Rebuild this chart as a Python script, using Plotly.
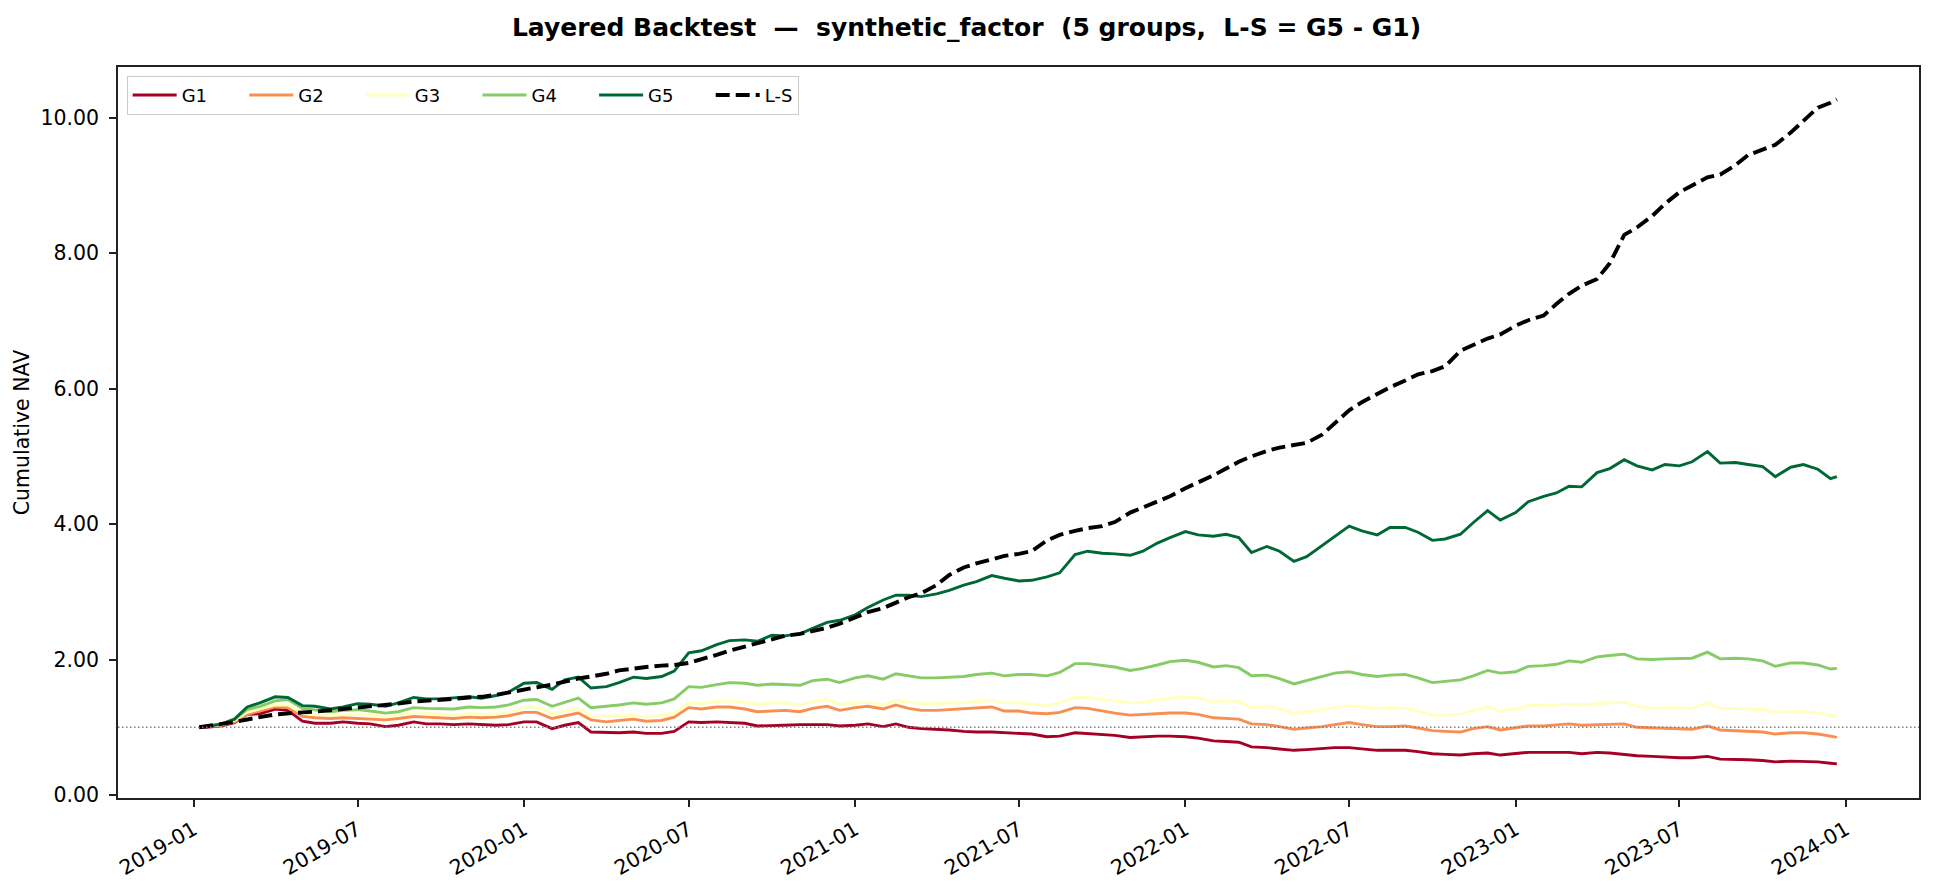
import plotly.graph_objects as go

# ---- dates: semi-monthly sampling of the backtest period ----
dates = (["2019-01-07"]
         + [f"{y}-{m:02d}-{d:02d}" for y in range(2019, 2024) for m in range(1, 13) for d in (1, 15)
            if not (y == 2019 and m == 1 and d == 1)]
         + ["2023-12-22"])

# ---- cumulative NAV per group ----
g1 = [1.00, 1.00, 1.02, 1.07, 1.19, 1.20, 1.27, 1.25, 1.09, 1.06, 1.06, 1.08, 1.06, 1.05, 1.01, 1.03, 1.08, 1.05, 1.05, 1.04, 1.05, 1.04, 1.03, 1.04,
      1.08, 1.08, 0.98, 1.03, 1.07, 0.93, 0.92, 0.92, 0.93, 0.91, 0.91, 0.94, 1.08, 1.07, 1.08, 1.07, 1.06, 1.02, 1.02, 1.03, 1.04, 1.04, 1.04, 1.02,
      1.03, 1.05, 1.01, 1.05, 1.00, 0.98, 0.97, 0.96, 0.94, 0.93, 0.93, 0.92, 0.91, 0.90, 0.86, 0.87, 0.92, 0.91, 0.89, 0.88, 0.85, 0.86, 0.87, 0.87,
      0.86, 0.84, 0.80, 0.79, 0.78, 0.71, 0.70, 0.68, 0.66, 0.67, 0.69, 0.70, 0.70, 0.68, 0.66, 0.66, 0.66, 0.64, 0.61, 0.60, 0.59, 0.61, 0.62, 0.59,
      0.61, 0.63, 0.63, 0.63, 0.63, 0.61, 0.63, 0.62, 0.60, 0.58, 0.57, 0.56, 0.55, 0.55, 0.57, 0.53, 0.53, 0.52, 0.51, 0.49, 0.50, 0.50, 0.49, 0.47, 0.46]

g2 = [1.00, 1.01, 1.03, 1.08, 1.19, 1.24, 1.30, 1.29, 1.16, 1.14, 1.13, 1.14, 1.13, 1.12, 1.11, 1.13, 1.16, 1.15, 1.14, 1.13, 1.15, 1.14, 1.15, 1.17,
      1.22, 1.22, 1.13, 1.17, 1.21, 1.11, 1.08, 1.10, 1.12, 1.09, 1.10, 1.15, 1.29, 1.27, 1.30, 1.30, 1.27, 1.23, 1.24, 1.25, 1.23, 1.28, 1.31, 1.25,
      1.29, 1.31, 1.27, 1.33, 1.28, 1.25, 1.25, 1.26, 1.27, 1.29, 1.30, 1.24, 1.24, 1.21, 1.20, 1.22, 1.29, 1.28, 1.24, 1.21, 1.18, 1.19, 1.21, 1.21,
      1.21, 1.19, 1.14, 1.13, 1.12, 1.05, 1.04, 1.01, 0.97, 0.99, 1.01, 1.04, 1.07, 1.04, 1.01, 1.01, 1.02, 0.99, 0.95, 0.94, 0.93, 0.98, 1.01, 0.96,
      0.99, 1.02, 1.02, 1.04, 1.05, 1.03, 1.04, 1.05, 1.05, 1.00, 0.99, 0.99, 0.98, 0.97, 1.02, 0.96, 0.95, 0.94, 0.93, 0.90, 0.92, 0.92, 0.90, 0.87, 0.85]

g3 = [1.00, 1.02, 1.04, 1.10, 1.22, 1.27, 1.33, 1.33, 1.21, 1.19, 1.18, 1.19, 1.19, 1.18, 1.16, 1.18, 1.22, 1.21, 1.19, 1.18, 1.20, 1.19, 1.20, 1.22,
      1.29, 1.30, 1.20, 1.24, 1.28, 1.16, 1.16, 1.17, 1.17, 1.15, 1.17, 1.20, 1.36, 1.35, 1.38, 1.39, 1.37, 1.34, 1.36, 1.36, 1.33, 1.38, 1.41, 1.34,
      1.36, 1.37, 1.33, 1.40, 1.37, 1.35, 1.35, 1.35, 1.36, 1.38, 1.40, 1.36, 1.36, 1.34, 1.32, 1.36, 1.44, 1.44, 1.41, 1.39, 1.36, 1.37, 1.40, 1.43,
      1.45, 1.43, 1.38, 1.39, 1.38, 1.29, 1.31, 1.27, 1.20, 1.23, 1.26, 1.29, 1.32, 1.30, 1.28, 1.29, 1.28, 1.24, 1.18, 1.18, 1.19, 1.25, 1.30, 1.24,
      1.27, 1.32, 1.32, 1.33, 1.34, 1.33, 1.35, 1.36, 1.37, 1.31, 1.28, 1.29, 1.28, 1.28, 1.36, 1.28, 1.28, 1.27, 1.26, 1.22, 1.23, 1.23, 1.21, 1.17, 1.16]

g4 = [1.00, 1.02, 1.05, 1.12, 1.26, 1.31, 1.39, 1.41, 1.28, 1.26, 1.23, 1.25, 1.26, 1.24, 1.21, 1.23, 1.29, 1.28, 1.27, 1.27, 1.30, 1.29, 1.30, 1.33,
      1.40, 1.41, 1.31, 1.37, 1.43, 1.29, 1.31, 1.33, 1.36, 1.34, 1.36, 1.42, 1.60, 1.59, 1.63, 1.66, 1.65, 1.62, 1.64, 1.63, 1.62, 1.69, 1.71, 1.66,
      1.73, 1.76, 1.71, 1.79, 1.76, 1.73, 1.73, 1.74, 1.75, 1.78, 1.80, 1.76, 1.78, 1.78, 1.76, 1.81, 1.94, 1.94, 1.91, 1.89, 1.84, 1.87, 1.92, 1.97,
      1.99, 1.96, 1.89, 1.91, 1.88, 1.76, 1.77, 1.72, 1.64, 1.69, 1.74, 1.80, 1.82, 1.78, 1.75, 1.77, 1.78, 1.73, 1.66, 1.68, 1.70, 1.76, 1.84, 1.80,
      1.82, 1.90, 1.91, 1.93, 1.98, 1.96, 2.04, 2.06, 2.08, 2.01, 2.00, 2.01, 2.02, 2.02, 2.11, 2.01, 2.02, 2.01, 1.98, 1.90, 1.95, 1.95, 1.92, 1.86, 1.87]

g5 = [1.00, 1.01, 1.05, 1.12, 1.30, 1.36, 1.45, 1.44, 1.32, 1.31, 1.27, 1.30, 1.35, 1.34, 1.31, 1.36, 1.44, 1.42, 1.42, 1.43, 1.45, 1.43, 1.47, 1.52,
      1.65, 1.66, 1.56, 1.70, 1.74, 1.58, 1.60, 1.66, 1.74, 1.72, 1.75, 1.83, 2.10, 2.13, 2.22, 2.28, 2.29, 2.27, 2.36, 2.35, 2.38, 2.46, 2.55, 2.58,
      2.66, 2.77, 2.88, 2.95, 2.95, 2.93, 2.97, 3.02, 3.10, 3.15, 3.24, 3.20, 3.16, 3.17, 3.22, 3.28, 3.55, 3.60, 3.57, 3.56, 3.54, 3.60, 3.72, 3.80,
      3.89, 3.84, 3.82, 3.85, 3.80, 3.58, 3.67, 3.60, 3.45, 3.52, 3.68, 3.82, 3.97, 3.90, 3.84, 3.95, 3.95, 3.88, 3.76, 3.78, 3.85, 4.02, 4.20, 4.06,
      4.17, 4.33, 4.41, 4.46, 4.56, 4.55, 4.76, 4.82, 4.95, 4.86, 4.80, 4.88, 4.86, 4.92, 5.07, 4.90, 4.91, 4.88, 4.85, 4.70, 4.84, 4.88, 4.81, 4.67, 4.70]

ls = [1.00, 1.02, 1.05, 1.08, 1.12, 1.15, 1.19, 1.21, 1.22, 1.23, 1.25, 1.27, 1.29, 1.31, 1.33, 1.35, 1.38, 1.39, 1.41, 1.42, 1.44, 1.45, 1.48, 1.51,
      1.56, 1.59, 1.63, 1.68, 1.72, 1.75, 1.79, 1.84, 1.87, 1.89, 1.91, 1.92, 1.95, 2.00, 2.07, 2.13, 2.19, 2.25, 2.31, 2.35, 2.38, 2.42, 2.47, 2.53,
      2.62, 2.70, 2.76, 2.84, 2.92, 2.98, 3.10, 3.25, 3.36, 3.42, 3.48, 3.53, 3.56, 3.60, 3.76, 3.84, 3.90, 3.94, 3.97, 4.03, 4.17, 4.25, 4.33, 4.41,
      4.53, 4.61, 4.72, 4.82, 4.92, 5.00, 5.08, 5.13, 5.17, 5.20, 5.32, 5.48, 5.68, 5.80, 5.92, 6.02, 6.12, 6.21, 6.26, 6.33, 6.56, 6.65, 6.74, 6.80,
      6.93, 7.01, 7.08, 7.25, 7.40, 7.52, 7.62, 7.85, 8.27, 8.38, 8.55, 8.73, 8.90, 9.00, 9.12, 9.16, 9.30, 9.45, 9.53, 9.60, 9.78, 9.95, 10.15, 10.22, 10.27]

names = ["G1", "G2", "G3", "G4", "G5"]
ls_name = "L-S"
colors = ["#a50026", "#f98e52", "#ffffbe", "#86cb66", "#006837"]
x_tick_vals = ["2019-01-01", "2019-07-01", "2020-01-01", "2020-07-01", "2021-01-01", "2021-07-01",
               "2022-01-01", "2022-07-01", "2023-01-01", "2023-07-01", "2024-01-01"]
x_tick_text = ["2019-01", "2019-07", "2020-01", "2020-07", "2021-01", "2021-07",
               "2022-01", "2022-07", "2023-01", "2023-07", "2024-01"]
y_tick_vals = [0, 2, 4, 6, 8, 10]

FONT = "DejaVu Sans, Verdana, sans-serif"
PAD = "\u00a0" * 5 + "\u2009"   # legend spacing between entries

fig = go.Figure()
for name, col, vals in zip(names, colors, [g1, g2, g3, g4, g5]):
    fig.add_trace(go.Scatter(x=dates, y=vals, mode="lines", name=name + PAD,
                             line=dict(color=col, width=2.9)))
fig.add_trace(go.Scatter(x=dates, y=ls, mode="lines", name=ls_name,
                         line=dict(color="black", width=3.9, dash="14px,6px")))

fig.add_shape(type="line", xref="paper", yref="y", x0=0, x1=1, y0=1.0, y1=1.0,
              line=dict(color="#808080", width=1.5, dash="1.5px,2.5px"), layer="above")

axis_common = dict(showline=True, linecolor="#222", linewidth=1.6, mirror=True,
                   ticks="outside", ticklen=7, tickwidth=1.6, tickcolor="#222",
                   showgrid=False, zeroline=False,
                   tickfont=dict(family=FONT, size=20.5, color="black"))

fig.update_layout(
    width=1933, height=888,
    margin=dict(l=118, r=14, t=67, b=90, pad=0),
    paper_bgcolor="white", plot_bgcolor="white",
    font=dict(family=FONT, color="black"),
    title=dict(text="<b>Layered Backtest\u00a0\u00a0—\u00a0\u00a0synthetic_factor\u00a0\u00a0(5 groups,\u00a0\u00a0L-S = G5 - G1)</b>",
               x=0.5, xref="container", xanchor="center",
               y=1 - 27 / 888, yref="container", yanchor="middle",
               font=dict(family=FONT, size=25, color="black")),
    xaxis=dict(type="date", range=["2018-10-09 06:00", "2024-03-21 19:00"],
               tickmode="array", tickvals=x_tick_vals, ticktext=x_tick_text,
               tickangle=-30, automargin=False, ticklabelstandoff=3, **axis_common),
    yaxis=dict(range=[-0.044, 10.749], tickmode="array", tickvals=y_tick_vals,
               tickformat=".2f", automargin=False, ticklabelstandoff=6,
               title=dict(text="Cumulative NAV", standoff=5,
                          font=dict(family=FONT, size=20.5, color="black")),
               **axis_common),
    legend=dict(orientation="h", x=0.0048, y=0.988, xanchor="left", yanchor="top",
                bgcolor="rgba(255,255,255,0.8)", bordercolor="#cccccc", borderwidth=1,
                font=dict(family=FONT, size=18, color="black"),
                itemwidth=44, tracegroupgap=0),
    showlegend=True,
)

fig.write_html("out.html")
